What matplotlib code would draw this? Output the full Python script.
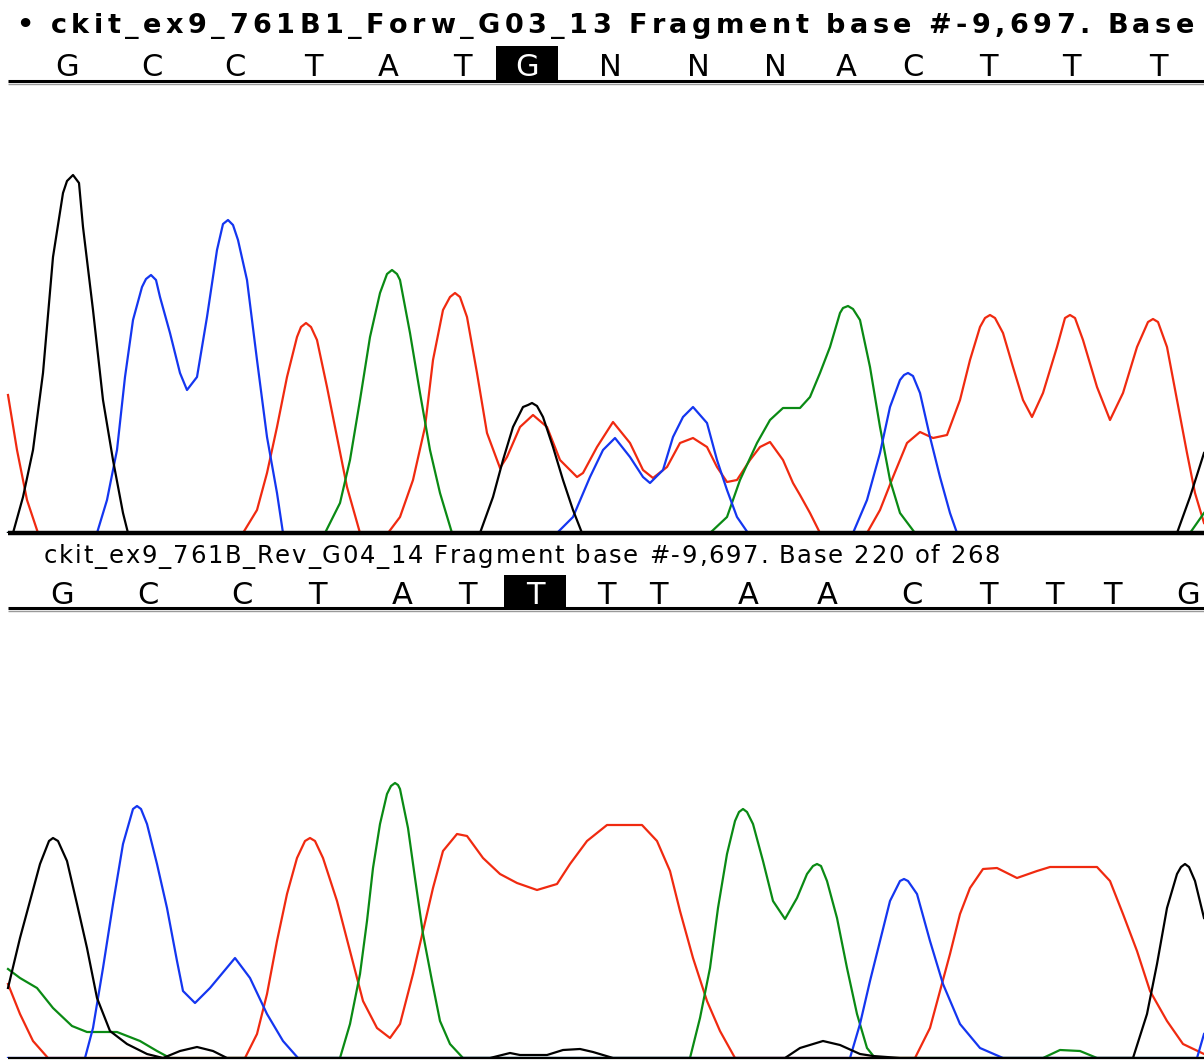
import matplotlib
matplotlib.use("Agg")
import matplotlib.pyplot as plt
from matplotlib.patches import Rectangle

#----------------------------------------------------------------#
# Données (x = position du scan, h = signal)

W, H = 1204, 1061

TITRE_HAUT = "• ckit_ex9_761B1_Forw_G03_13 Fragment base #-9,697. Base"
TITRE_BAS = "ckit_ex9_761B_Rev_G04_14 Fragment base #-9,697. Base 220 of 268"

BASES_HAUT = ["G", "C", "C", "T", "A", "T", "G", "N", "N", "N", "A", "C", "T", "T", "T"]
POS_HAUT = [67, 152, 235, 313, 388, 462, 527, 610, 698, 775, 846, 913, 988, 1071, 1158]
SEL_HAUT = 6

BASES_BAS = ["G", "C", "C", "T", "A", "T", "T", "T", "T", "A", "A", "C", "T", "T", "T", "G"]
POS_BAS = [62, 148, 242, 317, 402, 467, 535, 606, 658, 748, 827, 912, 988, 1054, 1112, 1188]
SEL_BAS = 6

# trace du haut
haut_G_x = [8, 13, 23, 33, 43, 53, 63, 67, 73, 79, 83, 93, 103, 113, 123, 128,
            480, 493, 503, 513, 523, 528, 532, 537, 543, 553, 563, 573, 582, 1177, 1190, 1204]
haut_G_h = [0, 0, 36, 83, 160, 276, 340, 352, 358, 350, 306, 223, 133, 73, 20, 0,
            0, 36, 73, 106, 126, 128, 130, 127, 116, 86, 53, 23, 0, 0, 36, 80]

haut_T_x = [8, 17, 27, 38, 243, 257, 267, 277, 287, 297, 301, 306, 311, 317, 327, 337, 347, 360,
            388, 400, 413, 425, 433, 443, 450, 455, 460, 467, 477, 487, 500, 507, 520, 533, 547, 560,
            577, 583, 597, 613, 630, 643, 653, 667, 680, 693, 707, 717, 727, 737, 750, 760,
            770, 783, 793, 800, 810, 820, 867, 880, 893, 907, 920, 933, 947, 960, 970, 980,
            985, 990, 995, 1003, 1013, 1023, 1032, 1043, 1057, 1065, 1070, 1075, 1083, 1097,
            1110, 1123, 1137, 1148, 1153, 1158, 1167, 1177, 1187, 1195, 1204]
haut_T_h = [138, 83, 33, 0, 0, 23, 60, 106, 156, 196, 206, 210, 206, 193, 146, 96, 46, 0,
            0, 16, 53, 106, 173, 223, 236, 240, 236, 216, 160, 100, 65, 76, 106, 118, 106, 73,
            56, 60, 86, 111, 90, 63, 55, 66, 90, 95, 86, 66, 51, 53, 73, 86,
            91, 73, 50, 38, 20, 0, 0, 23, 56, 90, 101, 95, 98, 133, 173, 206,
            215, 218, 215, 200, 166, 133, 116, 140, 186, 215, 218, 215, 193, 146,
            113, 140, 186, 211, 214, 211, 186, 133, 80, 40, 10]

haut_C_x = [8, 97, 107, 117, 125, 133, 142, 146, 151, 156, 160, 170, 180, 187, 197, 207, 217,
            223, 228, 233, 238, 247, 257, 267, 277, 283, 557, 573, 590, 603, 615, 630, 643, 650,
            663, 673, 683, 693, 707, 717, 727, 737, 748, 853, 867, 880, 890, 900, 904, 908,
            913, 920, 930, 940, 950, 957, 1204]
haut_C_h = [0, 0, 33, 83, 156, 213, 246, 254, 258, 253, 236, 200, 160, 143, 156, 216, 283,
            309, 313, 308, 293, 253, 173, 96, 40, 0, 0, 16, 56, 83, 95, 76, 56, 50,
            63, 96, 116, 126, 110, 73, 43, 16, 0, 0, 33, 80, 126, 153, 158, 160,
            157, 140, 96, 56, 20, 0, 0]

haut_A_x = [8, 325, 340, 350, 360, 370, 380, 387, 392, 397, 400, 410, 420, 430, 440, 452,
            710, 727, 740, 757, 770, 783, 800, 810, 820, 830, 840, 843, 848, 853, 860, 870,
            880, 890, 900, 915, 1190, 1204]
haut_A_h = [0, 0, 30, 73, 133, 196, 240, 259, 263, 259, 253, 200, 140, 83, 40, 0,
            0, 16, 53, 90, 113, 125, 125, 136, 160, 186, 220, 225, 227, 224, 213, 166,
            106, 53, 20, 0, 0, 20]

# trace du bas
bas_G_x = [8, 20, 30, 40, 49, 53, 58, 67, 77, 87, 97, 110, 127, 147, 163, 180, 197, 213, 227,
           490, 510, 520, 547, 563, 580, 593, 613, 785, 800, 823, 840, 860, 873, 900,
           1133, 1147, 1157, 1167, 1177, 1181, 1185, 1189, 1195, 1204]
bas_G_h = [70, 120, 157, 194, 217, 220, 217, 197, 154, 110, 60, 27, 14, 4, 0, 7, 11, 7, 0,
           0, 5, 3, 3, 8, 9, 6, 0, 0, 10, 17, 13, 4, 2, 0,
           0, 44, 94, 150, 184, 191, 194, 191, 177, 140]

bas_C_x = [8, 85, 93, 103, 113, 123, 133, 137, 141, 147, 157, 167, 177, 183, 195, 210, 235,
           250, 267, 283, 298, 850, 860, 870, 880, 890, 900, 904, 908, 917, 930, 943, 960,
           980, 1003, 1197, 1204]
bas_C_h = [0, 0, 30, 90, 154, 214, 249, 252, 249, 234, 194, 150, 97, 67, 55, 70, 100,
           80, 44, 17, 0, 0, 34, 77, 117, 157, 177, 179, 177, 164, 117, 74, 34,
           10, 0, 0, 24]

bas_A_x = [8, 20, 37, 53, 72, 87, 117, 140, 157, 170, 340, 350, 360, 367, 373, 380, 387,
           391, 395, 398, 400, 408, 415, 423, 432, 440, 450, 463, 690, 700, 710, 718, 727,
           735, 739, 743, 747, 753, 763, 773, 785, 797, 807, 813, 817, 821, 827, 837, 847,
           857, 867, 875, 1043, 1060, 1080, 1097, 1204]
bas_A_h = [89, 80, 70, 50, 32, 26, 26, 17, 7, 0, 0, 34, 84, 137, 190, 234, 264,
           272, 275, 273, 269, 230, 180, 124, 77, 37, 14, 0, 0, 40, 90, 150, 204,
           237, 246, 249, 246, 234, 197, 157, 139, 160, 184, 192, 194, 192, 177, 140, 90,
           44, 10, 0, 0, 8, 7, 0, 0]

bas_T_x = [8, 20, 33, 48, 245, 257, 267, 277, 287, 297, 305, 310, 315, 323, 337, 350, 363,
           377, 390, 400, 413, 423, 433, 443, 457, 467, 483, 500, 517, 537, 557, 570, 587,
           607, 642, 657, 670, 680, 693, 707, 720, 735, 915, 930, 940, 950, 960, 970,
           983, 997, 1017, 1037, 1050, 1097, 1110, 1123, 1137, 1150, 1167, 1183, 1204]
bas_T_h = [74, 44, 17, 0, 0, 24, 64, 117, 164, 200, 217, 220, 217, 200, 157, 107, 57,
           30, 20, 34, 84, 127, 170, 207, 224, 222, 200, 184, 175, 168, 174, 194, 217,
           233, 233, 217, 187, 147, 100, 57, 27, 0, 0, 30, 67, 104, 144, 170,
           189, 190, 180, 187, 191, 191, 177, 144, 107, 67, 37, 14, 4]

COULEURS = {"T": "#f02a10", "A": "#0a8a14", "C": "#1436f0", "G": "#000000"}

#----------------------------------------------------------------#

fig = plt.figure(figsize=(W / 100, H / 100), dpi=100)
fig.patch.set_facecolor("white")

ax = fig.add_axes([0, 0, 1, 1])
ax.set_xlim(0, W)
ax.set_ylim(H, 0)
ax.axis("off")


def texte_espace(x0, x1, y, s, **kw):
    """Écrit s entre x0 et x1 en espaçant les lettres (pas de letter-spacing dans matplotlib)."""
    r = fig.canvas.get_renderer()
    larg = []
    for ch in s:
        if ch == " ":
            larg.append(kw["fontsize"] * 100 / 72 * 0.30)
        else:
            t = ax.text(0, 0, ch, **kw)
            larg.append(t.get_window_extent(r).width)
            t.remove()
    pas = (x1 - x0 - sum(larg)) / (len(s) - 1)
    x = x0
    for ch, w in zip(s, larg):
        if ch != " ":
            ax.text(x, y, ch, ha="left", va="baseline", **kw)
        x += w + pas


def rangee_bases(bases, pos, sel, y_base, y_haut, y_regle):
    for i, (b, x) in enumerate(zip(bases, pos)):
        coul = "black"
        if i == sel:
            ax.add_patch(Rectangle((x - 31, y_haut), 62, y_regle - y_haut,
                                   facecolor="black", edgecolor="none"))
            coul = "white"
        ax.text(x, y_base, b, ha="center", va="baseline", fontsize=22,
                color=coul, family="DejaVu Sans")
    ax.plot([8, W], [y_regle + 1, y_regle + 1], color="black", lw=2.2, solid_capstyle="butt")
    ax.plot([8, W], [y_regle + 3.5, y_regle + 3.5], color="#9a9a9a", lw=1.0, solid_capstyle="butt")


def panneau(haut, bas, traces, ep_base):
    a = fig.add_axes([0, 1 - bas / H, 1, (bas - haut) / H])
    a.set_xlim(0, W)
    a.set_ylim(0, bas - haut)
    a.axis("off")
    for base, (xs, hs) in traces.items():
        a.plot(xs, hs, color=COULEURS[base], lw=1.6, solid_joinstyle="round")
    a.plot([8, W], [0, 0], color="black", lw=ep_base, solid_capstyle="butt",
           clip_on=False, zorder=5)
    return a


texte_espace(16, 1194, 33, TITRE_HAUT, fontsize=19.5, fontweight="bold", family="DejaVu Sans")
rangee_bases(BASES_HAUT, POS_HAUT, SEL_HAUT, 76, 46, 80)

texte_espace(44, 1000, 563, TITRE_BAS, fontsize=17.5, family="DejaVu Sans")
rangee_bases(BASES_BAS, POS_BAS, SEL_BAS, 604, 575, 607)

panneau(84, 533, {"T": (haut_T_x, haut_T_h), "A": (haut_A_x, haut_A_h),
                  "C": (haut_C_x, haut_C_h), "G": (haut_G_x, haut_G_h)}, 3.2)
panneau(612, 1058, {"T": (bas_T_x, bas_T_h), "A": (bas_A_x, bas_A_h),
                    "C": (bas_C_x, bas_C_h), "G": (bas_G_x, bas_G_h)}, 1.6)

fig.savefig("out.png", dpi=100)
